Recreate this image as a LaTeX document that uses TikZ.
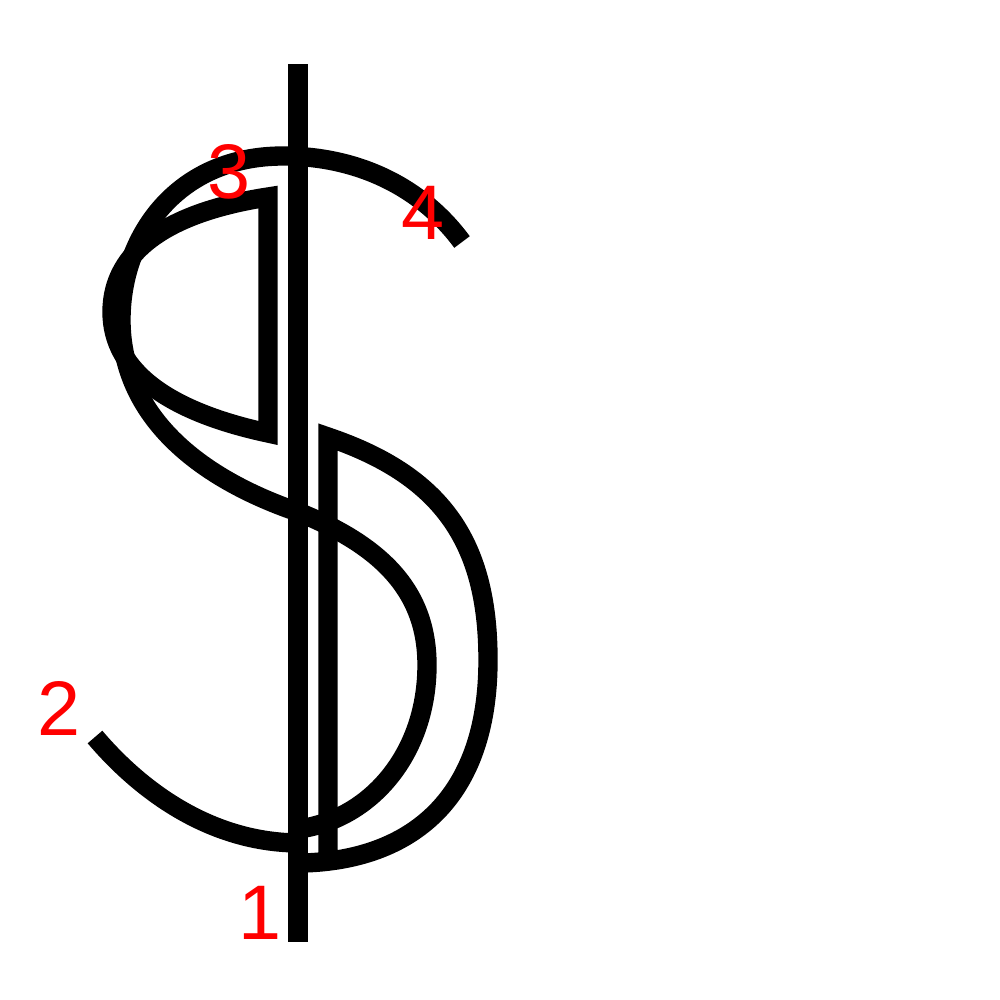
\documentclass[tikz,border=0pt]{standalone}
\usepackage{fontspec}
\setmainfont{Liberation Sans}
\begin{document}
\begin{tikzpicture}[x=0.01cm,y=-0.01cm,
  stroke/.style={line width=5.5pt,black,line cap=butt,line join=miter},
  bar/.style={line width=5.6pt,black,line cap=butt},
  lbl/.style={text=red,inner sep=0pt,font=\fontsize{22pt}{22pt}\selectfont}]
\useasboundingbox[fill=white] (0,0) rectangle (1000,1000);
% vertical bar
\draw[bar] (298,64) -- (298,942);
% left D
\draw[stroke] (268,197) -- (268,433) .. controls (170,412) and (112,372) .. (112,312)
  .. controls (112,250) and (170,212) .. cycle;
% right D
\draw[stroke] (328,855) -- (328,437) .. controls (440,475) and (488,540) .. (488,660)
  .. controls (488,800) and (410,860) .. (303,863);
% S curve
\draw[stroke] (462,242) .. controls (420,185) and (355,156) .. (283,156)
  .. controls (178,156) and (121,235) .. (121,320)
  .. controls (121,410) and (190,475) .. (298,512)
  .. controls (380,545) and (427,590) .. (427,665)
  .. controls (427,750) and (375,815) .. (305,828);
\draw[stroke] (300,843) .. controls (210,843) and (140,790) .. (95,737);
% labels
\node[lbl] (n1) at (260,913) {1};
\node[lbl] (n2) at (59,708) {2};
\node[lbl] (n3) at (229,172) {3};
\node[lbl] (n4) at (423,213) {4};
\end{tikzpicture}
\end{document}
